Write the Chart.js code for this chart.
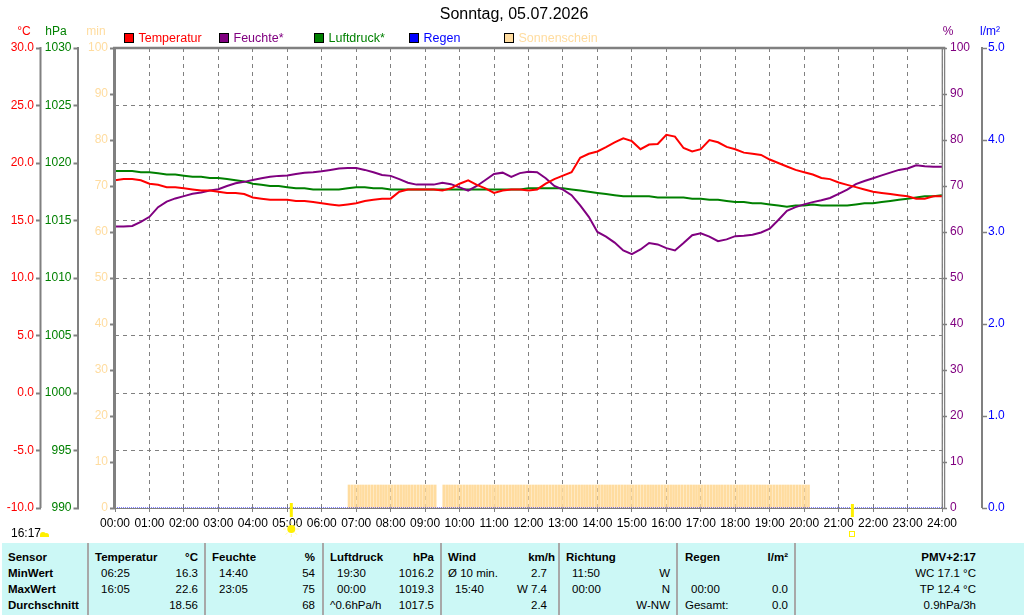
<!DOCTYPE html>
<html><head><meta charset="utf-8">
<script src="https://cdn.jsdelivr.net/npm/chart.js@4.4.1/dist/chart.umd.min.js"></script>
<style>
html,body{margin:0;padding:0;background:#fff;}
#wrap{position:relative;width:1024px;height:615px;overflow:hidden;background:#fff;}
#c{position:absolute;left:0;top:0;}
#tbl{position:absolute;left:2px;top:543px;width:1022px;height:72px;background:#CCF8F6;font-family:"Liberation Sans",Arial,sans-serif;font-size:11.5px;color:#000;}
.t{position:absolute;white-space:nowrap;line-height:16px;}
.b{font-weight:bold;}
.sep{position:absolute;top:0;height:72px;width:2px;background:#a8a8a8;}
</style></head>
<body>
<div id="wrap">
<canvas id="c" width="1024" height="543"></canvas>
<div id="tbl"></div>
</div>
<script>
// ---------- data ----------
const title = "Sonntag, 05.07.2026";
const seriesLabels = ["Temperatur", "Feuchte*", "Luftdruck*", "Regen", "Sonnenschein"];
const seriesColors = ["#FF0000", "#800080", "#008000", "#0000FF", "#FFDC9F"];
const stepHours = 0.25; // 15-minute samples from 00:00 to 24:00
const tempC = [
 18.5,18.6,18.6,18.5, 18.2,18.1,17.9,17.9, 17.8,17.7,17.6,17.6, 17.5,17.4,17.4,17.3,
 17.0,16.9,16.8,16.8, 16.8,16.7,16.7,16.6, 16.5,16.4,16.3,16.4, 16.5,16.7,16.8,16.9,
 16.9,17.5,17.7,17.7, 17.7,17.7,17.6,17.8, 18.2,18.5,18.1,17.8, 17.4,17.6,17.7,17.7,
 17.6,17.7,18.2,18.6, 18.9,19.2,20.45,20.8, 21.0,21.38,21.8,22.15, 21.9,21.2,21.6,21.65,
 22.45,22.3,21.3,21.0, 21.2,22.0,21.8,21.4, 21.2,20.9,20.8,20.7, 20.3,20.0,19.7,19.4,
 19.2,19.0,18.7,18.6, 18.3,18.1,17.9,17.7, 17.5,17.4,17.3,17.2, 17.1,16.9,16.9,17.1,
 17.1
];
const humidity = [
 61.2,61.2,61.3,62.2, 63.3,65.4,66.6,67.3, 67.8,68.3,68.6,69.0, 69.3,70.0,70.6,70.9,
 71.3,71.7,72.0,72.2, 72.3,72.6,72.9,73.0, 73.2,73.5,73.8,73.9, 73.9,73.5,73.0,72.4,
 72.2,71.5,70.7,70.3, 70.3,70.3,70.7,70.4, 69.7,69.0,70.0,71.3, 72.6,72.9,72.0,72.8,
 73.1,73.0,71.7,70.0, 69.2,68.0,65.8,63.3, 60.0,59.0,57.7,56.0, 55.2,56.2,57.6,57.3,
 56.5,56.0,57.6,59.3, 59.7,59.0,58.0,58.4, 59.1,59.2,59.4,59.9, 60.7,62.6,64.6,65.4,
 66.0,66.5,66.9,67.4, 68.3,69.2,70.4,71.1, 71.7,72.3,72.9,73.5, 73.8,74.5,74.3,74.2,
 74.2
];
const pressure = [
 1019.3,1019.3,1019.3,1019.2, 1019.2,1019.1,1019.0,1019.0, 1018.9,1018.8,1018.8,1018.7, 1018.7,1018.6,1018.5,1018.4,
 1018.2,1018.1,1018.0,1018.0, 1017.9,1017.8,1017.8,1017.7, 1017.7,1017.7,1017.7,1017.8, 1017.9,1017.9,1017.8,1017.8,
 1017.7,1017.7,1017.7,1017.7, 1017.7,1017.7,1017.7,1017.7, 1017.7,1017.7,1017.7,1017.7, 1017.7,1017.7,1017.7,1017.7,
 1017.8,1017.8,1017.8,1017.8, 1017.8,1017.7,1017.6,1017.5, 1017.4,1017.3,1017.2,1017.1, 1017.1,1017.1,1017.1,1017.0,
 1017.0,1017.0,1017.0,1016.9, 1016.9,1016.8,1016.8,1016.7, 1016.6,1016.6,1016.5,1016.5, 1016.4,1016.3,1016.2,1016.3,
 1016.3,1016.4,1016.3,1016.3, 1016.3,1016.3,1016.4,1016.5, 1016.5,1016.6,1016.7,1016.8, 1016.9,1017.0,1017.1,1017.1,
 1017.2
];
const rainHours = [0,1,2,3,4,5,6,7,8,9,10,11,12,13,14,15,16,17,18,19,20,21,22,23,24];
const rainMm    = [0,0,0,0,0,0,0,0,0,0,0, 0, 0, 0, 0, 0, 0, 0, 0, 0, 0, 0, 0, 0, 0];
// sunshine minutes per 5-minute interval, first interval starts 06:45
const sunStart = "06:45";
const sunIntervalMin = 5;
const sunshineMin = [
 5,5,5,5,5,5,5,5,5,5,5,5,5,5,5,5,5,5,5,5,5,5,5,5,5,5,5,5,5,5,5,
 0,0,
 5,5,5,5,5,5,5,5,5,5,5,5,5,5,5,5,5,5,5,5,5,5,5,5,5,5,5,5,5,5,5,5,
 5,5,5,5,5,5,5,5,5,5,5,5,5,5,5,5,5,5,5,5,5,5,5,5,5,5,5,5,5,5,5,5,
 5,5,5,5,5,5,5,5,5,5,5,5,5,5,5,5,5,5,5,5,5,5,5,5,5,5,5,5,5,5,5,5,
 5,5,5,5,5,5,5,5,5,5,5,5,5,5,5,5,5,5,5,5,5,5,5,5,5,5,5,5,5,5,5,5
];
const sunrise = "05:07";
const sunset = "21:24";
const dayLength = "16:17";
const axisUnits = ["°C", "hPa", "min", "%", "l/m²"];

// ---------- table ----------
const tableRows = [
 ["Sensor","Temperatur","°C","Feuchte","%","Luftdruck","hPa","Wind","km/h","Richtung","","Regen","l/m²","PMV+2:17"],
 ["MinWert","06:25","16.3","14:40","54","19:30","1016.2","Ø 10 min.","2.7","11:50","W","","","WC 17.1 °C"],
 ["MaxWert","16:05","22.6","23:05","75","00:00","1019.3","15:40","W 7.4","00:00","N","00:00","0.0","TP 12.4 °C"],
 ["Durchschnitt","","18.56","","68","^0.6hPa/h","1017.5","","2.4","","W-NW","Gesamt:","0.0","0.9hPa/3h"]
];

const toH = s => { const [h,m] = s.split(":").map(Number); return h + m/60; };
const times = tempC.map((_, i) => i * stepHours);
const sunStartH = toH(sunStart);

// build table DOM
(function(){
  const tbl = document.getElementById('tbl');
  const off = 2;
  [88,205,323,441,559,677,795].forEach(x=>{
    const d=document.createElement('div');d.className='sep';d.style.left=(x-off-1)+'px';tbl.appendChild(d);
  });
  const headPos = [['l',8],['l',95],['r',198],['l',212],['r',315],['l',330],['r',434],['l',448],['r',555],['l',566],['r',670],['l',685],['r',788],['r',976]];
  const bodyPos = [
   [['l',8],['l',101],['r',198],['l',219],['r',315],['l',337],['r',434],['l',448],['r',547],['l',572],['r',670],['l',691],['r',788],['r',976]],
   [['l',8],['l',101],['r',198],['l',219],['r',315],['l',337],['r',434],['l',455],['r',547],['l',572],['r',670],['l',691],['r',788],['r',976]],
   [['l',8],['l',101],['r',198],['l',219],['r',315],['l',330],['r',434],['l',455],['r',547],['l',572],['r',670],['l',685],['r',788],['r',976]]
  ];
  tableRows.forEach((row, ri)=>{
    const pos = ri===0 ? headPos : bodyPos[ri-1];
    row.forEach((txt, ci)=>{
      if(!txt) return;
      const d=document.createElement('div');
      d.className='t'+((ri===0||ci===0)?' b':'');
      d.textContent=txt;
      d.style.top=(6+ri*16)+'px';
      const [al,x]=pos[ci];
      if(al==='l'){ d.style.left=(x-off)+'px'; }
      else { d.style.right=(1022-(x-off))+'px'; }
      tbl.appendChild(d);
    });
  });
})();

// ---------- chart ----------
const NARROW = '"Liberation Sans Narrow","Liberation Sans",Arial,sans-serif';
const NORMAL = '"Liberation Sans",Arial,sans-serif';
Chart.defaults.font.family = NARROW;
Chart.defaults.font.size = 12;
const GRAY = '#808080';

const overlay = {
  id:'overlay',
  afterDraw(chart){
    const {ctx, chartArea:a, scales:s} = chart;
    ctx.save();
    ctx.fillStyle='#000'; ctx.font='16px '+NORMAL; ctx.textAlign='center'; ctx.textBaseline='middle';
    ctx.fillText(title, 514, 15);
    ctx.font='12px '+NARROW;
    const unitX = [24, 56, 96, 948, 990];
    const unitC = [seriesColors[0], seriesColors[2], seriesColors[4], seriesColors[1], seriesColors[3]];
    axisUnits.forEach((u,i)=>{ ctx.fillStyle=unitC[i]; ctx.fillText(u, unitX[i], 32); });
    ctx.font='12.5px '+NARROW; ctx.textAlign='left';
    seriesLabels.forEach((lab,i)=>{
      const x = 124 + i*95;
      ctx.fillStyle=seriesColors[i]; ctx.fillRect(x,33,10,10);
      ctx.strokeStyle='#000'; ctx.lineWidth=1; ctx.strokeRect(x+0.5,33.5,9,9);
      ctx.fillStyle=seriesColors[i]; ctx.fillText(lab, x+14.5, 38.5);
    });
    ctx.strokeStyle=GRAY;
    const vline=(x,w)=>{ctx.lineWidth=w;ctx.beginPath();ctx.moveTo(x,a.top-1);ctx.lineTo(x,a.bottom);ctx.stroke();};
    vline(s.yT.right-0.5,2);
    vline(s.yP.right-0.5,2);
    vline(a.left-0.5,3);
    vline(a.right+0.3,1.3);
    vline(a.right+2.6,1.3);
    vline(s.yR.left,2);
    ctx.lineWidth=2.5; ctx.beginPath(); ctx.moveTo(a.left-2,a.top); ctx.lineTo(a.right+3.2,a.top); ctx.stroke();
    const xr = s.x.getPixelForValue(toH(sunrise));
    const xs = s.x.getPixelForValue(toH(sunset));
    ctx.strokeStyle='#FFF000'; ctx.lineWidth=3;
    ctx.beginPath(); ctx.moveTo(xr,503); ctx.lineTo(xr,517); ctx.stroke();
    ctx.beginPath(); ctx.moveTo(xs,504); ctx.lineTo(xs,517); ctx.stroke();
    ctx.strokeStyle='#FFF7A8'; ctx.lineWidth=1;
    for(let k=0;k<8;k++){const an=k*Math.PI/4;ctx.beginPath();ctx.moveTo(xr+Math.cos(an)*5,529+Math.sin(an)*5);ctx.lineTo(xr+Math.cos(an)*8,529+Math.sin(an)*8);ctx.stroke();}
    ctx.fillStyle='#FFF000'; ctx.beginPath(); ctx.arc(xr,529,4,0,Math.PI*2); ctx.fill();
    ctx.strokeStyle='#FFF000'; ctx.lineWidth=1; ctx.strokeRect(Math.round(xs)-2.5,531.5,5,5);
    ctx.fillStyle='#000'; ctx.font='12px '+NORMAL; ctx.textAlign='left'; ctx.textBaseline='middle';
    ctx.fillText(dayLength, 11, 533.5);
    ctx.fillStyle='#FFF000';
    ctx.beginPath(); ctx.arc(43,535,3,Math.PI,0); ctx.arc(46.5,535.5,2.5,Math.PI,0); ctx.lineTo(49,537); ctx.lineTo(40,537); ctx.fill();
    ctx.restore();
  }
};

const lineDs = (label, vals, color, axis, order) => ({
  type:'line', label, data: times.map((t,i)=>({x:t,y:vals[i]})),
  borderColor:color, backgroundColor:color, borderWidth:2, pointRadius:0, tension:0, yAxisID:axis, order
});

const yTick = (color, fmt, pad) => ({color, padding:pad, font:{size:12, family:NARROW}, callback:fmt});
const gridNo = {drawOnChartArea:false, drawTicks:true, tickLength:5, tickColor:GRAY, tickWidth:2, color:GRAY};

new Chart(document.getElementById('c'), {
  type:'line',
  data:{datasets:[
    lineDs(seriesLabels[0], tempC, seriesColors[0], 'yT', 1),
    lineDs(seriesLabels[1], humidity, seriesColors[1], 'yH', 2),
    lineDs(seriesLabels[2], pressure, seriesColors[2], 'yP', 3),
    {type:'line', label:seriesLabels[3], data: rainHours.map((h,i)=>({x:h,y:rainMm[i]})),
      borderColor:seriesColors[3], borderWidth:1.2, borderDash:[1,1], pointRadius:0, yAxisID:'yR', order:4},
    {type:'bar', label:seriesLabels[4],
      data: sunshineMin.map((v,i)=>({x: sunStartH + (i+0.5)*sunIntervalMin/60, y:v})),
      backgroundColor:seriesColors[4], borderWidth:0, barThickness:2, grouped:false, yAxisID:'yS', order:10}
  ]},
  options:{
    responsive:false, animation:false, devicePixelRatio:1,
    layout:{padding:{top:48,left:0,right:0,bottom:0}},
    plugins:{legend:{display:false}, tooltip:{enabled:false}, title:{display:false}},
    scales:{
      x:{type:'linear', min:0, max:24, position:'bottom', offset:false,
         ticks:{stepSize:1, color:'#000', padding:4, maxRotation:0, autoSkip:false, font:{size:12,family:NARROW},
                callback:v=>String(v).padStart(2,'0')+':00'},
         grid:{offset:false, color:GRAY, lineWidth:1, tickLength:4, tickColor:GRAY, drawOnChartArea:true},
         border:{display:true, color:GRAY, width:1, dash:[4,4]},
         afterFit(sc){sc.height=35;}},
      yT:{type:'linear', position:'left', min:-10, max:30, weight:3,
         ticks:Object.assign(yTick(seriesColors[0], v=>v.toFixed(1), 2),{stepSize:5}),
         grid:{drawOnChartArea:true, color:GRAY, lineWidth:1, tickLength:5, tickColor:GRAY, tickWidth:2},
         border:{display:false, dash:[4,4]},
         afterFit(sc){sc.width=41;}},
      yP:{type:'linear', position:'left', min:990, max:1030, weight:2,
         ticks:Object.assign(yTick(seriesColors[2], v=>String(v), 2),{stepSize:5}),
         grid:gridNo, border:{display:false},
         afterFit(sc){sc.width=37.5;}},
      yS:{type:'linear', position:'left', min:0, max:100, weight:1,
         ticks:Object.assign(yTick(seriesColors[4], v=>String(v), 2),{stepSize:10}),
         grid:gridNo, border:{display:false},
         afterFit(sc){sc.width=36.5;}},
      yH:{type:'linear', position:'right', min:0, max:100, weight:1,
         ticks:Object.assign(yTick(seriesColors[1], v=>String(v), 3),{stepSize:10}),
         grid:Object.assign({},gridNo,{tickWidth:1.5}), border:{display:false},
         afterFit(sc){sc.width=40;}},
      yR:{type:'linear', position:'right', min:0, max:5, weight:2,
         ticks:Object.assign(yTick(seriesColors[3], v=>v.toFixed(1), 1),{stepSize:1}),
         grid:Object.assign({},gridNo,{tickWidth:1.5}), border:{display:false},
         afterFit(sc){sc.width=42;}}
    }
  },
  plugins:[overlay]
});
</script>
</body></html>
